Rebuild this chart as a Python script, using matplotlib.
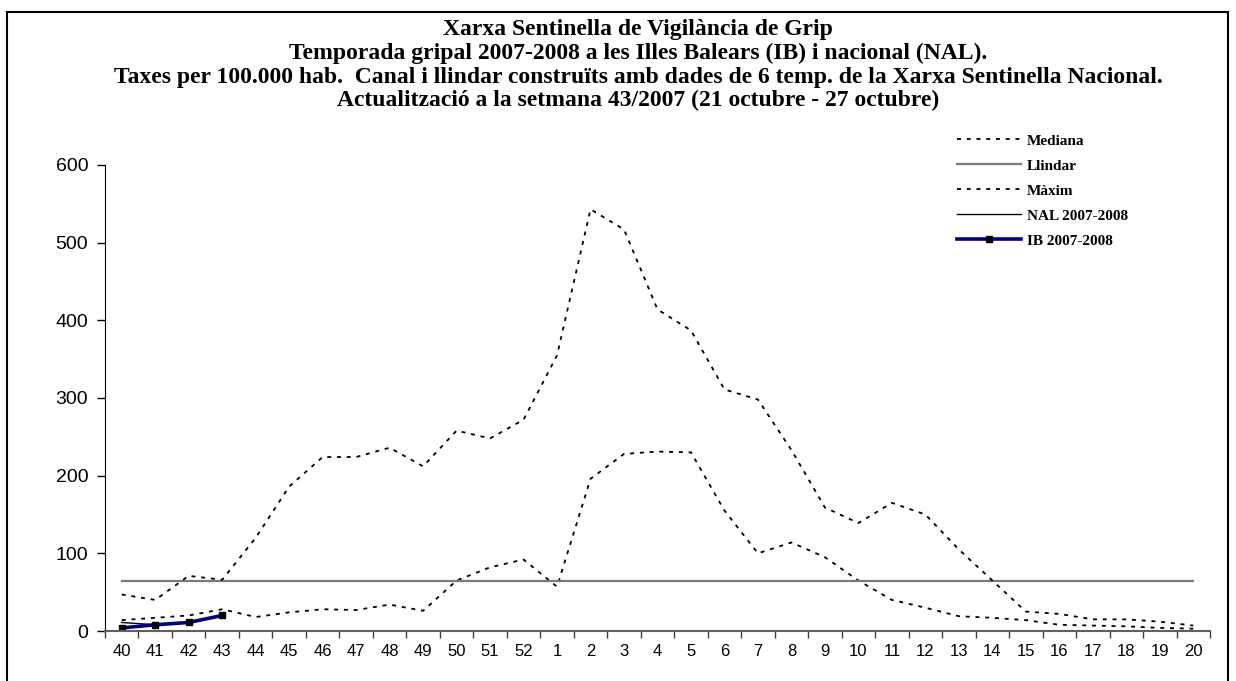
import matplotlib
matplotlib.use("Agg")
import matplotlib.pyplot as plt
from matplotlib.patches import Rectangle
import numpy as np

weeks = ["40", "41", "42", "43", "44", "45", "46", "47", "48", "49", "50", "51", "52",
         "1", "2", "3", "4", "5", "6", "7", "8", "9", "10", "11", "12", "13", "14",
         "15", "16", "17", "18", "19", "20"]

mediana = [14, 17, 20, 28, 18, 24, 28, 27, 34, 26, 65, 82, 92,
           57, 196, 228, 231, 230, 155, 100, 114, 95, 65, 40, 30, 19, 17,
           14, 8, 7, 6, 4, 3]

maxim = [47, 40, 71, 66, 120, 186, 224, 224, 236, 212, 258, 248, 272,
         355, 543, 517, 414, 387, 311, 298, 233, 159, 139, 165, 150, 105, 65,
         25, 22, 15, 15, 12, 7]

llindar = [65] * len(weeks)

nal = [11, 8, 11, 19]
ib = [4, 8, 11, 20]

title_lines = [
    "Xarxa Sentinella de Vigilància de Grip",
    "Temporada gripal 2007-2008 a les Illes Balears (IB) i nacional (NAL).",
    "Taxes per 100.000 hab.  Canal i llindar construïts amb dades de 6 temp. de la Xarxa Sentinella Nacional.",
    "Actualització a la setmana 43/2007 (21 octubre - 27 octubre)",
]

W, H = 1236, 681
fig = plt.figure(figsize=(W / 100, H / 100), dpi=100)
ax = fig.add_axes([105 / W, 1 - 631 / H, (1210 - 105) / W, (631 - 165) / H])

x = np.arange(len(weeks))
dash = (0, (2.2, 3.2))
ax.plot(x, mediana, color="black", lw=1.3, linestyle=dash, label="Mediana")
ax.plot(x, llindar, color="#7a7a7a", lw=1.6, label="Llindar")
ax.plot(x, maxim, color="black", lw=1.3, linestyle=dash, label="Màxim")
ax.plot(x[:len(nal)], nal, color="black", lw=1.0, label="NAL 2007-2008")
ax.plot(x[:len(ib)], ib, color="#000080", lw=2.6, marker="s", markersize=5,
        markerfacecolor="black", markeredgecolor="black", label="IB 2007-2008")

ax.set_xlim(-0.5, len(weeks) - 0.5)
ax.set_ylim(0, 600)
ax.set_yticks(range(0, 601, 100))
ax.tick_params(axis="y", direction="out", length=6, width=1, labelsize=14, pad=6)
ax.set_xticks(x)
ax.set_xticklabels(weeks)
ax.tick_params(axis="x", which="major", length=0, labelsize=12, pad=9)
ax.set_xticks(np.arange(-0.5, len(weeks), 1), minor=True)
ax.tick_params(axis="x", which="minor", direction="out", length=5, width=1, color="#404040")
for lab in ax.get_xticklabels() + ax.get_yticklabels():
    lab.set_fontfamily("Liberation Sans")

for s in ["top", "right"]:
    ax.spines[s].set_visible(False)
ax.spines["left"].set_color("black")
ax.spines["bottom"].set_color("#606060")
ax.spines["bottom"].set_linewidth(1.5)

ys = [30, 53, 77, 100]
for t, yy in zip(title_lines, ys):
    fig.text(638 / W, 1 - yy / H, t, ha="center", va="center",
             fontsize=17, fontweight="bold", family="Liberation Serif")

leg = ax.legend(loc="upper left", bbox_to_anchor=(957 / W, 1 - 134 / H),
                bbox_transform=fig.transFigure, frameon=False,
                prop={"family": "Liberation Serif", "weight": "bold", "size": 11},
                handlelength=4.2, handletextpad=0.35, labelspacing=0.74,
                borderpad=0, borderaxespad=0)

fig.patches.append(Rectangle((7 / W, -0.05), (1228 - 7) / W, 1 - 12 / H + 0.05,
                             transform=fig.transFigure, fill=False,
                             edgecolor="black", lw=1.5))

fig.savefig("out.png", dpi=100)
